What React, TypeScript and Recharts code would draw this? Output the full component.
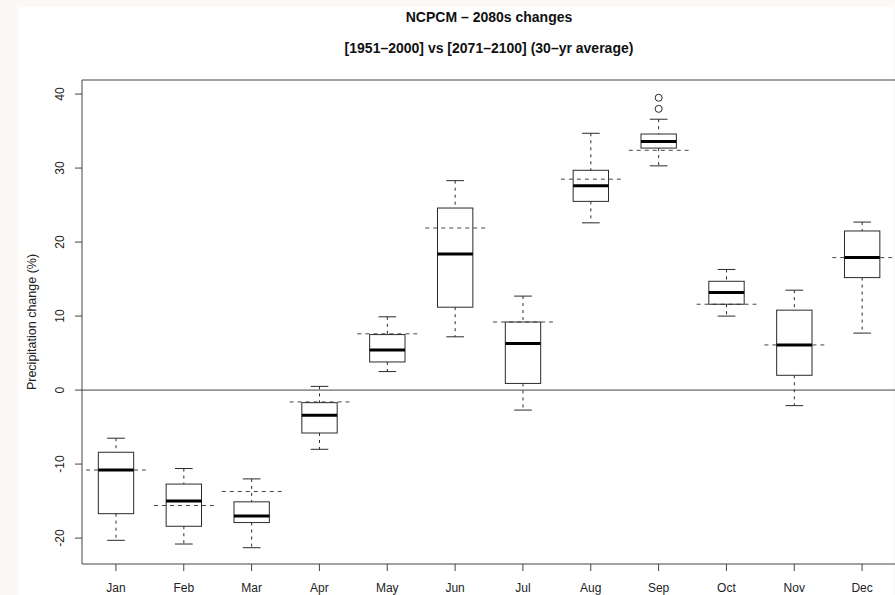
import React from "react";
import { ComposedChart, Bar, XAxis, YAxis, ReferenceLine } from "recharts";

// monthly precipitation change (%) box statistics
const months = ["Jan", "Feb", "Mar", "Apr", "May", "Jun", "Jul", "Aug", "Sep", "Oct", "Nov", "Dec"];
const whiskerLow = [-20.3, -20.8, -21.3, -8.0, 2.5, 7.2, -2.7, 22.6, 30.3, 10.0, -2.1, 7.7];
const q1 = [-16.7, -18.4, -17.9, -5.8, 3.8, 11.2, 0.9, 25.5, 32.7, 11.6, 2.0, 15.2];
const median = [-10.8, -15.0, -17.0, -3.4, 5.4, 18.4, 6.3, 27.6, 33.6, 13.2, 6.1, 17.9];
const q3 = [-8.4, -12.7, -15.1, -1.7, 7.5, 24.6, 9.2, 29.7, 34.6, 14.7, 10.8, 21.5];
const whiskerHigh = [-6.5, -10.6, -12.0, 0.5, 9.9, 28.3, 12.7, 34.7, 36.6, 16.3, 13.5, 22.7];
const reference = [-10.8, -15.6, -13.7, -1.6, 7.6, 21.9, 9.2, 28.5, 32.4, 11.6, 6.1, 17.9];
const outliers: number[][] = [[], [], [], [], [], [], [], [], [38.0, 39.5], [], [], []];
const yTicks = [-20, -10, 0, 10, 20, 30, 40];

const data = months.map((m, i) => ({ month: m, range: [whiskerLow[i], whiskerHigh[i]] }));

const INK = "#2a2a2a";
const FONT = "'Liberation Sans', Arial, Helvetica, sans-serif";

function BoxShape(props: any) {
  const { x, y, width, height, index } = props;
  const i = index;
  const top = Math.min(y, y + height);
  const bottom = Math.max(y, y + height);
  const hi = whiskerHigh[i];
  const lo = whiskerLow[i];
  const py = (v: number) => top + ((hi - v) / (hi - lo)) * (bottom - top);
  const cx = x + width / 2;
  const bw = width * 0.26;
  const cw = width * 0.13;
  const rw = width * 0.44;
  return (
    <g>
      <line x1={cx - rw} x2={cx + rw} y1={py(reference[i])} y2={py(reference[i])} stroke="#444" strokeDasharray="4 4" />
      <line x1={cx} x2={cx} y1={py(hi)} y2={py(q3[i])} stroke={INK} strokeDasharray="3 4" />
      <line x1={cx} x2={cx} y1={py(q1[i])} y2={py(lo)} stroke={INK} strokeDasharray="3 4" />
      <line x1={cx - cw} x2={cx + cw} y1={py(hi)} y2={py(hi)} stroke={INK} />
      <line x1={cx - cw} x2={cx + cw} y1={py(lo)} y2={py(lo)} stroke={INK} />
      <rect x={cx - bw} y={py(q3[i])} width={bw * 2} height={py(q1[i]) - py(q3[i])} fill="none" stroke={INK} />
      <line x1={cx - bw} x2={cx + bw} y1={py(median[i])} y2={py(median[i])} stroke="#000" strokeWidth={3} />
      {outliers[i].map((v, k) => (
        <circle key={k} cx={cx} cy={py(v)} r={3.5} fill="none" stroke={INK} />
      ))}
    </g>
  );
}

function YTick(props: any) {
  const { x, y, payload } = props;
  return (
    <text x={x - 9} y={y} transform={`rotate(-90, ${x - 9}, ${y})`} textAnchor="middle" fontSize={12} fontFamily={FONT} fill="#222">
      {payload.value}
    </text>
  );
}

export default function App() {
  return (
    <div style={{ position: "fixed", left: 0, top: 0, width: 895, height: 595, overflow: "hidden", background: "#fcf8f5" }}>
      <div style={{ position: "absolute", left: 19, top: 7, width: 874, height: 588, background: "#fff" }} />
      <svg width={895} height={70} style={{ position: "absolute", left: 0, top: 0 }}>
        <text x={489} y={22} textAnchor="middle" fontSize={14} fontWeight="bold" fontFamily={FONT} fill="#111">
          NCPCM – 2080s changes
        </text>
        <text x={489} y={53} textAnchor="middle" fontSize={14} fontWeight="bold" fontFamily={FONT} fill="#111">
          [1951–2000] vs [2071–2100] (30–yr average)
        </text>
      </svg>
      <div style={{ position: "absolute", left: 0, top: 0 }}>
        <ComposedChart width={900} height={595} data={data} margin={{ top: 79, right: 3, bottom: 0, left: 0 }} barCategoryGap="0%">
          <XAxis
            dataKey="month"
            height={31}
            tickSize={7}
            tickMargin={12}
            stroke="#444"
            tick={{ fontSize: 12, fontFamily: FONT, fill: "#222" }}
            interval={0}
          />
          <XAxis xAxisId="top" orientation="top" dataKey="month" height={1} tick={false} tickLine={false} stroke="#444" />
          <YAxis
            width={82}
            domain={[-23.5, 41.9]}
            ticks={yTicks}
            allowDataOverflow
            tickSize={7}
            stroke="#444"
            tick={<YTick />}
            label={{
              value: "Precipitation change (%)",
              angle: -90,
              position: "insideLeft",
              offset: 32,
              style: { textAnchor: "middle", fontSize: 12.5, fontFamily: FONT, fill: "#222" },
            }}
          />
          <YAxis yAxisId="right" orientation="right" width={1} tick={false} tickLine={false} stroke="#444" />
          <ReferenceLine y={0} stroke="#444" />
          <Bar dataKey="range" shape={<BoxShape />} isAnimationActive={false} />
        </ComposedChart>
      </div>
    </div>
  );
}
